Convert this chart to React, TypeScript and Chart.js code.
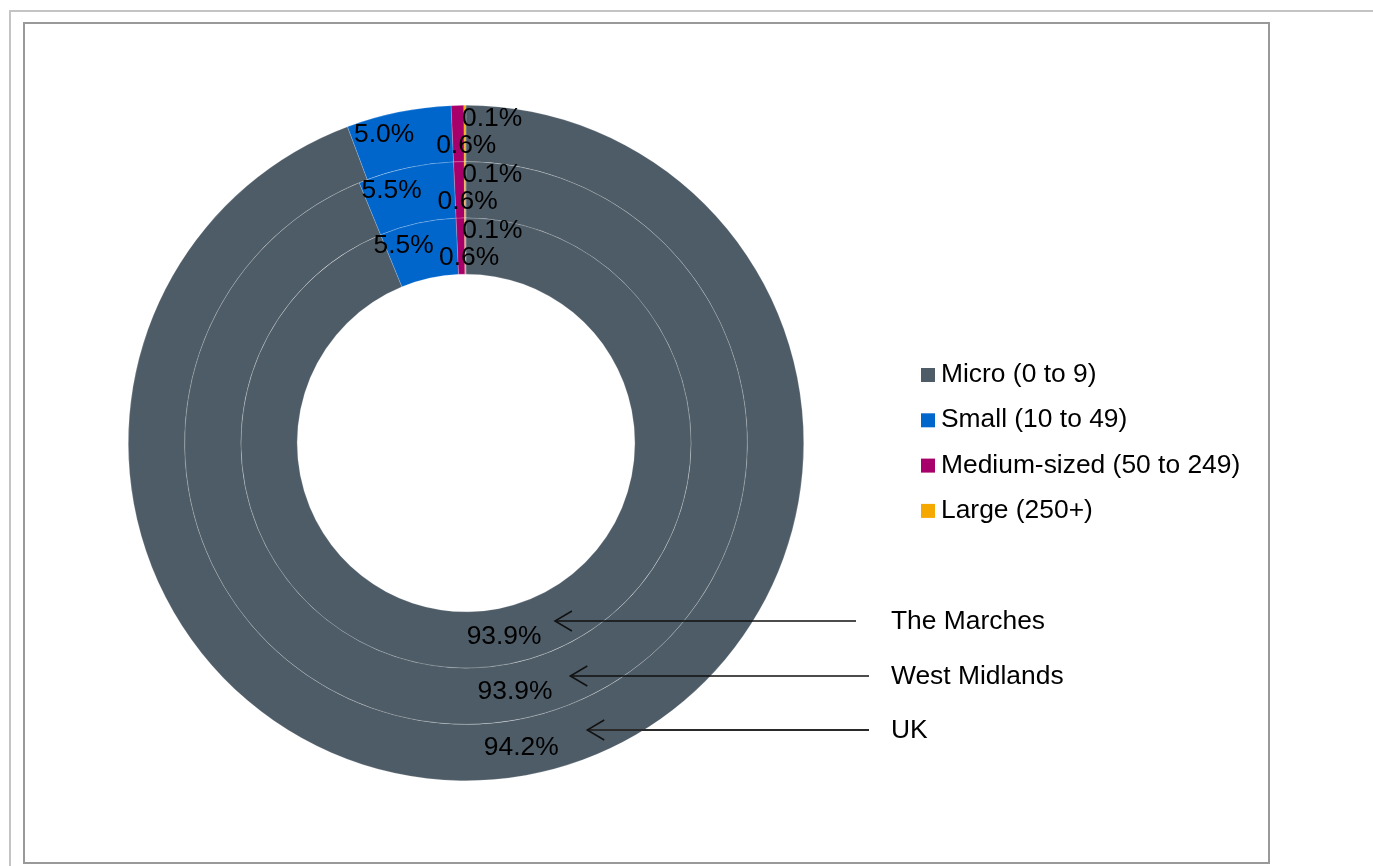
import React, { useEffect, useRef } from "react";
import { Chart, registerables } from "chart.js";

Chart.register(...registerables);

// ---- data ----
const categories = ["Micro (0 to 9)", "Small (10 to 49)", "Medium-sized (50 to 249)", "Large (250+)"];
// rings from outer to inner
const regions = ["UK", "West Midlands", "The Marches"];
const ukValues = [94.2, 5.0, 0.6, 0.1];
const westMidlandsValues = [93.9, 5.5, 0.6, 0.1];
const marchesValues = [93.9, 5.5, 0.6, 0.1];

// ---- style ----
const colors = ["#4E5C67", "#0066CC", "#A8006B", "#F5A800"];
const FONT = "26.4px 'Liberation Sans', Arial, sans-serif";
// label nudges per category (Excel-like placement to avoid overlap)
const labelNudge: [number, number, CanvasTextAlign][] = [
  [0, 0, "center"],
  [-20, -5, "center"],
  [8, 12, "center"],
  [27, -15, "center"],
];
// legend layout
const legendX = 921;
const legendBaseline0 = 382;
const legendStep = 45.3;
// region callouts layout (outer to inner order matches regions)
const calloutTextX = 891;
const calloutBaselines = [738, 684, 629];
const calloutLineEnd = [869, 869, 856];
const calloutLineColor = ["#2a2a2a", "#111111", "#111111"];
const calloutLineWidth = [2, 1.5, 1.5];

const overlayPlugin = {
  id: "overlay",
  afterDraw(chart: any) {
    const ctx: CanvasRenderingContext2D = chart.ctx;
    ctx.save();
    ctx.font = FONT;
    ctx.fillStyle = "#000";
    ctx.textBaseline = "middle";
    // data labels
    chart.data.datasets.forEach((ds: any, di: number) => {
      const meta = chart.getDatasetMeta(di);
      meta.data.forEach((arc: any, i: number) => {
        const p = arc.getCenterPoint();
        const [dx, dy, align] = labelNudge[i];
        ctx.textAlign = align;
        ctx.fillText(Number(ds.data[i]).toFixed(1) + "%", p.x + dx, p.y + dy);
      });
    });
    // legend
    ctx.textAlign = "left";
    ctx.textBaseline = "alphabetic";
    categories.forEach((c, i) => {
      const b = legendBaseline0 + i * legendStep;
      ctx.fillStyle = colors[i];
      ctx.fillRect(legendX, b - 14, 14, 14);
      ctx.fillStyle = "#000";
      ctx.fillText(c, legendX + 20, b);
    });
    // callouts with arrows pointing into each ring
    regions.forEach((r, di) => {
      const meta = chart.getDatasetMeta(di);
      const arc = meta.data[0];
      const props = arc.getProps(["x", "y", "innerRadius", "outerRadius"], true);
      const rm = (props.innerRadius + props.outerRadius) / 2 + 2;
      const ly = calloutBaselines[di] - 8;
      const ddy = ly - props.y;
      const tipX = props.x + Math.sqrt(Math.max(rm * rm - ddy * ddy, 0));
      ctx.strokeStyle = calloutLineColor[di];
      ctx.lineWidth = calloutLineWidth[di];
      ctx.beginPath();
      ctx.moveTo(tipX, ly);
      ctx.lineTo(calloutLineEnd[di], ly);
      ctx.stroke();
      ctx.strokeStyle = "#111";
      ctx.lineWidth = 1.5;
      ctx.beginPath();
      ctx.moveTo(tipX + 17, ly - 10);
      ctx.lineTo(tipX, ly);
      ctx.lineTo(tipX + 17, ly + 10);
      ctx.stroke();
      ctx.fillStyle = "#000";
      ctx.fillText(r, calloutTextX, calloutBaselines[di]);
    });
    ctx.restore();
  },
};

export default function App() {
  const ref = useRef<HTMLCanvasElement | null>(null);
  useEffect(() => {
    if (!ref.current) return;
    const series = [ukValues, westMidlandsValues, marchesValues];
    const chart = new Chart(ref.current, {
      type: "doughnut",
      data: {
        labels: categories,
        datasets: series.map((vals, i) => ({
          label: regions[i],
          data: vals,
          backgroundColor: colors,
          borderColor: "rgba(255,255,255,0.3)",
          borderWidth: 0.6,
        })),
      },
      options: {
        responsive: false,
        animation: false,
        devicePixelRatio: 1,
        cutout: "50%",
        layout: { padding: { left: 128, right: 569, top: 105, bottom: 85 } },
        plugins: {
          legend: { display: false },
          tooltip: { enabled: false },
        },
      },
      plugins: [overlayPlugin],
    });
    return () => chart.destroy();
  }, []);

  return (
    <div style={{ position: "fixed", left: 0, top: 0, width: 1373, height: 866, overflow: "hidden", background: "#fff" }}>
      <div style={{ position: "absolute", left: 9, top: 10, width: 2000, height: 2000, border: "2px solid #c4c4c4" }} />
      <div
        style={{
          position: "absolute",
          left: 23,
          top: 22,
          width: 1247,
          height: 842,
          boxSizing: "border-box",
          border: "2px solid #999",
        }}
      />
      <canvas ref={ref} width={1373} height={866} style={{ position: "absolute", left: 0, top: 0, width: 1373, height: 866 }} />
    </div>
  );
}
